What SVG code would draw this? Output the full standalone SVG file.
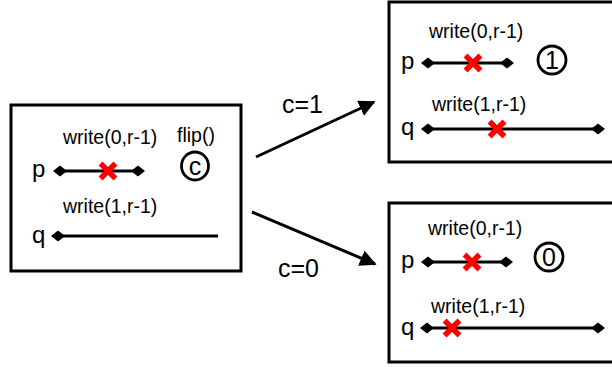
<svg xmlns="http://www.w3.org/2000/svg" width="612" height="367" viewBox="0 0 612 367">
<defs>
<style>
text{font-family:"Liberation Sans",Arial,sans-serif;fill:#000}
.lbl{font-size:19.5px}
.pq{font-size:24px}
.cl{font-size:25px}
.dg{font-size:25px}
.box{fill:#fff;stroke:#000;stroke-width:3}
.tl{stroke:#000;stroke-width:2.8;fill:none}
.circ{fill:none;stroke:#000;stroke-width:2.8}
.arr{stroke:#000;stroke-width:3;fill:none}
</style>
<path id="dia" d="M-7,0 L0,-5.5 L7,0 L0,5.5 Z" fill="#000"/>
<path id="rx" d="M-5.5,-5.5 L5.5,5.5 M5.5,-5.5 L-5.5,5.5" stroke="#f00" stroke-width="5.5" stroke-linecap="square"/>
<marker id="ah" viewBox="0 0 10 10" refX="9" refY="5" markerWidth="5.5" markerHeight="5.5" markerUnits="strokeWidth" orient="auto">
<path d="M0,0 L10,5 L0,10 Z" fill="#000"/>
</marker>
</defs>
<rect width="612" height="367" fill="#fff"/>

<g id="left">
<rect class="box" x="11" y="105" width="230" height="166"/>
<text class="lbl" x="63" y="144">write(0,r-1)</text>
<text class="lbl" x="177" y="142">flip()</text>
<text class="pq" x="32" y="177">p</text>
<line class="tl" x1="60" y1="171" x2="138" y2="171"/>
<use href="#dia" x="60" y="171"/><use href="#dia" x="138" y="171"/>
<use href="#rx" x="108" y="171"/>
<ellipse class="circ" cx="195" cy="166" rx="13.5" ry="14"/>
<text class="dg" x="195" y="175" text-anchor="middle">c</text>
<text class="lbl" x="63" y="213">write(1,r-1)</text>
<text class="pq" x="32" y="243">q</text>
<line class="tl" x1="58" y1="236" x2="218" y2="236"/>
<use href="#dia" x="58" y="236"/>
</g>

<g id="top">
<rect class="box" x="389" y="2" width="240" height="160"/>
<text class="lbl" x="429" y="38">write(0,r-1)</text>
<text class="pq" x="401" y="69">p</text>
<line class="tl" x1="428" y1="63" x2="507" y2="63"/>
<use href="#dia" x="428" y="63"/><use href="#dia" x="507" y="63"/>
<use href="#rx" x="473" y="63"/>
<ellipse class="circ" cx="552" cy="60" rx="14" ry="14"/>
<text class="dg" x="552" y="69" text-anchor="middle">1</text>
<text class="lbl" x="432" y="111">write(1,r-1)</text>
<text class="pq" x="401" y="135">q</text>
<line class="tl" x1="428" y1="129" x2="598" y2="129"/>
<use href="#dia" x="428" y="129"/><use href="#dia" x="598" y="129"/>
<use href="#rx" x="497" y="129"/>
</g>

<g id="bottom">
<rect class="box" x="389" y="203" width="240" height="159"/>
<text class="lbl" x="428" y="235">write(0,r-1)</text>
<text class="pq" x="401" y="268">p</text>
<line class="tl" x1="428" y1="262" x2="506" y2="262"/>
<use href="#dia" x="428" y="262"/><use href="#dia" x="506" y="262"/>
<use href="#rx" x="472" y="262"/>
<ellipse class="circ" cx="549" cy="257" rx="14" ry="14"/>
<text class="dg" x="549" y="266" text-anchor="middle">0</text>
<text class="lbl" x="431" y="313">write(1,r-1)</text>
<text class="pq" x="401" y="335">q</text>
<line class="tl" x1="427" y1="328" x2="598" y2="328"/>
<use href="#dia" x="427" y="328"/><use href="#dia" x="598" y="328"/>
<use href="#rx" x="452" y="328"/>
</g>

<g id="connectors">
<line class="arr" x1="256" y1="157" x2="374" y2="102" marker-end="url(#ah)"/>
<line class="arr" x1="252" y1="212" x2="375" y2="264" marker-end="url(#ah)"/>
<text class="cl" x="282" y="113">c=1</text>
<text class="cl" x="278" y="277">c=0</text>
</g>
</svg>
